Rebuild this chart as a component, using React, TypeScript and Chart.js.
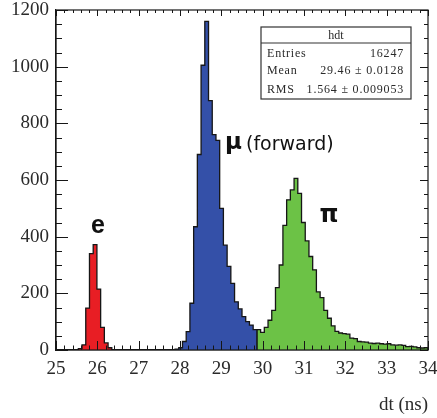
import React, { useEffect, useRef } from "react";
import { Chart, registerables } from "chart.js";

Chart.register(...registerables);

// Histogram binning: 100 bins from 25 to 34 ns
const BIN_MIN = 25;
const BIN_WIDTH = 0.09;

// Axis ranges / ticks
const X_MIN = 25;
const X_MAX = 34;
const Y_MIN = 0;
const Y_MAX = 1200;
const Y_STEP = 200;
const X_STEP = 1;

// e peak (red), first bin index 6
const eStartBin = 6;
const eCounts = [5, 18, 148, 340, 372, 215, 80, 25, 8];

// mu (forward) peak (blue), first bin index 32
const muStartBin = 32;
const muCounts = [
  3, 8, 30, 65, 165, 435, 690, 1005, 1160, 880, 760, 740, 500, 370, 295, 235,
  170, 145, 118, 100, 88, 72,
];

// pi peak (green), first bin index 54
const piStartBin = 54;
const piCounts = [
  72, 62, 80, 105, 140, 220, 300, 440, 530, 565, 606, 553, 450, 385, 330, 283,
  205, 185, 140, 112, 85, 66, 60, 58, 56, 42, 40, 30, 29, 28, 24, 23, 24, 22,
  21, 22, 18, 17, 18, 16, 12, 13, 11, 8, 7, 8,
];

const seriesNames = ["e", "μ", "π"];
const muNote = "(forward)";
const statsTitle = "hdt";
const statsLabels = ["Entries", "Mean", "RMS"];
const statsValues = ["16247", "29.46 ± 0.0128", "1.564 ± 0.009053"];
const xTitle = "dt (ns)";

const COLORS = {
  e: "rgb(232, 30, 36)",
  mu: "rgb(52, 80, 168)",
  pi: "rgb(108, 194, 70)",
  line: "#161616",
};

function edge(k: number) {
  return +(BIN_MIN + k * BIN_WIDTH).toFixed(4);
}

function histPoints(start: number, counts: number[]) {
  const pts: { x: number; y: number }[] = [{ x: edge(start), y: 0 }];
  counts.forEach((v, i) => pts.push({ x: edge(start + i), y: v }));
  pts.push({ x: edge(start + counts.length), y: 0 });
  return pts;
}

const rootPlugin = {
  id: "rootDecor",
  afterDraw(chart: any) {
    const { ctx, chartArea: a, scales } = chart;
    const xs = scales.x;
    const ys = scales.y;
    ctx.save();
    ctx.strokeStyle = COLORS.line;
    ctx.lineWidth = 1.2;
    ctx.strokeRect(a.left, a.top, a.right - a.left, a.bottom - a.top);

    ctx.lineWidth = 1;
    ctx.beginPath();
    // x ticks (major each 1, minor each 0.2)
    for (let i = 0; i <= 45; i++) {
      const v = X_MIN + i * 0.2;
      const px = Math.round(xs.getPixelForValue(v)) + 0.5;
      const major = i % 5 === 0;
      const lb = major ? 9 : 4.5;
      const lt = major ? 6 : 3;
      ctx.moveTo(px, a.bottom);
      ctx.lineTo(px, a.bottom - lb);
      ctx.moveTo(px, a.top);
      ctx.lineTo(px, a.top + lt);
    }
    // y ticks (major each 200, minor each 50)
    for (let i = 0; i <= 24; i++) {
      const v = Y_MIN + i * 50;
      const py = Math.round(ys.getPixelForValue(v)) + 0.5;
      const major = i % 4 === 0;
      const ll = major ? 12 : 6;
      const lr = major ? 8 : 4;
      ctx.moveTo(a.left, py);
      ctx.lineTo(a.left + ll, py);
      ctx.moveTo(a.right, py);
      ctx.lineTo(a.right - lr, py);
    }
    ctx.stroke();

    // Stats box
    const bx = 261, by = 27, bw = 150, bh = 72;
    ctx.fillStyle = "#ffffff";
    ctx.fillRect(bx, by, bw, bh);
    ctx.strokeStyle = "#333";
    ctx.lineWidth = 1.2;
    ctx.strokeRect(bx, by, bw, bh);
    ctx.beginPath();
    ctx.moveTo(bx, by + 16);
    ctx.lineTo(bx + bw, by + 16);
    ctx.stroke();
    ctx.fillStyle = "#2a2a2a";
    ctx.font = "12px 'Liberation Serif'";
    ctx.textBaseline = "middle";
    ctx.textAlign = "center";
    ctx.fillText(statsTitle, bx + bw / 2, by + 8.5);
    (ctx as any).letterSpacing = "0.8px";
    const rowsY = [53.5, 71, 89.5];
    statsLabels.forEach((lab, i) => {
      ctx.textAlign = "left";
      ctx.fillText(lab, bx + 6, rowsY[i]);
      ctx.textAlign = "right";
      ctx.fillText(statsValues[i], bx + bw - 7, rowsY[i]);
    });
    (ctx as any).letterSpacing = "0px";

    // Peak labels
    ctx.fillStyle = "#111";
    ctx.textBaseline = "alphabetic";
    ctx.textAlign = "center";
    ctx.font = "bold 25px 'Liberation Sans'";
    ctx.fillText(seriesNames[0], 98, 233);
    ctx.textAlign = "left";
    ctx.font = "bold 23px 'DejaVu Sans'";
    ctx.fillText(seriesNames[1], 225, 149);
    ctx.font = "19px 'DejaVu Sans'";
    ctx.fillText(muNote, 246, 150);
    ctx.textAlign = "center";
    ctx.font = "bold 24px 'DejaVu Sans'";
    ctx.fillText(seriesNames[2], 329, 222);
    ctx.restore();
  },
};

function zeroPadding(s: any) {
  s.paddingLeft = 0;
  s.paddingRight = 0;
  s.paddingTop = 0;
  s.paddingBottom = 0;
}

export default function App() {
  const ref = useRef<HTMLCanvasElement | null>(null);
  useEffect(() => {
    if (!ref.current) return;
    const mk = (data: any, color: string) => ({
      data,
      stepped: "before" as const,
      fill: "origin",
      backgroundColor: color,
      borderColor: COLORS.line,
      borderWidth: 1.3,
      pointRadius: 0,
      tension: 0,
    });
    const chart = new Chart(ref.current, {
      type: "line",
      data: {
        datasets: [
          mk(histPoints(eStartBin, eCounts), COLORS.e),
          mk(histPoints(muStartBin, muCounts), COLORS.mu),
          mk(histPoints(piStartBin, piCounts), COLORS.pi),
        ],
      },
      options: {
        animation: false,
        responsive: false,
        events: [],
        layout: { padding: { left: 0, right: 9, top: 10, bottom: 0 } },
        plugins: {
          legend: { display: false },
          tooltip: { enabled: false },
        },
        scales: {
          x: {
            type: "linear",
            min: X_MIN,
            max: X_MAX,
            grid: { display: false, drawTicks: false },
            border: { display: true, color: COLORS.line, width: 1.2 },
            ticks: {
              stepSize: X_STEP,
              padding: 8,
              color: "#2a2a2a",
              font: { family: "'Liberation Serif'", size: 19 },
              maxRotation: 0,
              autoSkip: false,
              callback: (v: any) => String(v),
            },
            title: {
              display: true,
              text: xTitle,
              align: "end",
              color: "#2a2a2a",
              font: { family: "'Liberation Serif'", size: 19 },
              padding: { top: 0, bottom: 2 },
            },
            afterFit: (s: any) => {
              s.height = 68;
              zeroPadding(s);
            },
          },
          y: {
            type: "linear",
            min: Y_MIN,
            max: Y_MAX,
            grid: { display: false, drawTicks: false },
            border: { display: true, color: COLORS.line, width: 1.2 },
            ticks: {
              stepSize: Y_STEP,
              padding: 7,
              color: "#2a2a2a",
              font: { family: "'Liberation Serif'", size: 19 },
              callback: (v: any) => String(v),
            },
            afterFit: (s: any) => {
              s.width = 56;
              zeroPadding(s);
            },
          },
        },
      } as any,
      plugins: [rootPlugin],
    });
    return () => chart.destroy();
  }, []);
  return (
    <div style={{ position: "fixed", left: 0, top: 0, width: 437, height: 418, background: "#fff" }}>
      <canvas ref={ref} width={437} height={418} style={{ display: "block" }} />
    </div>
  );
}
